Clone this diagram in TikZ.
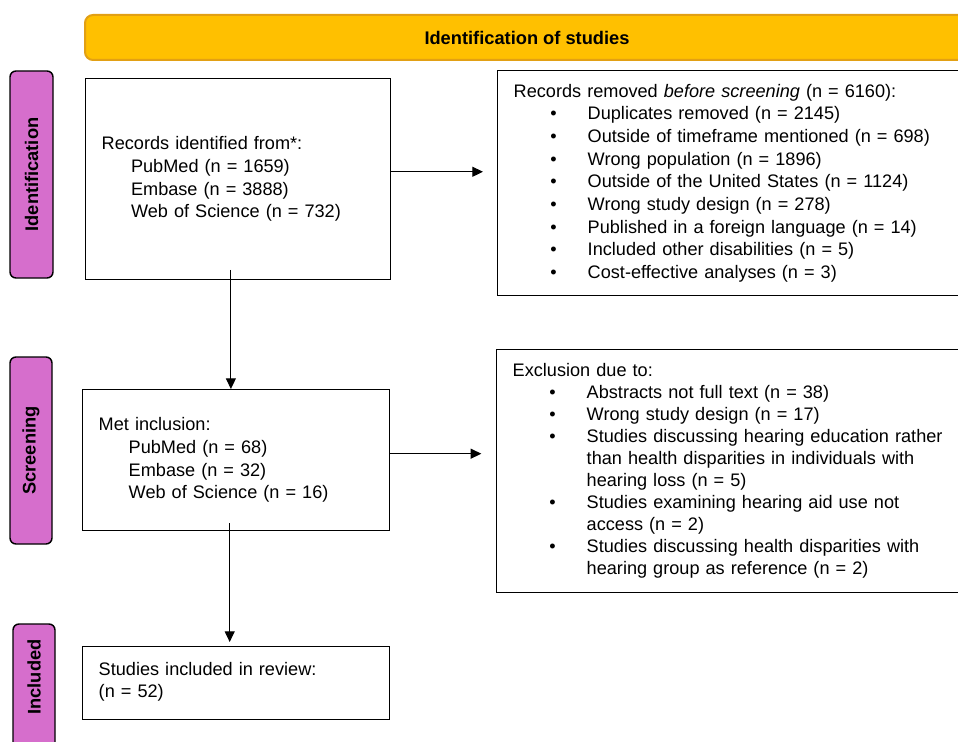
\documentclass[tikz,border=0pt]{standalone}
\usepackage{fontspec}
\setmainfont{Liberation Sans}
\usetikzlibrary{arrows.meta}
\definecolor{bandeau}{RGB}{255,192,0}
\definecolor{bandeaubord}{RGB}{226,160,20}
\definecolor{etape}{RGB}{214,110,204}
\newcommand{\puce}[1]{\makebox[55.5pt][l]{\hspace*{27.5pt}\textbullet}#1}
\newcommand{\suite}{\hspace*{55.5pt}}

\begin{document}
\begin{tikzpicture}[x=0.75pt,y=-0.75pt,
  font=\fontsize{13.6pt}{17pt}\selectfont,
  boite/.style={draw, line width=1.1pt, anchor=north west, align=left, inner xsep=12pt, inner ysep=0pt},
  phase/.style={draw, line width=1.1pt, fill=etape, rounded corners=4.5pt},
  titre/.style={font=\bfseries\fontsize{13.7pt}{16pt}\selectfont},
  fleche/.style={line width=0.75pt, -{Triangle[length=8pt,width=7.5pt]}}]
\useasboundingbox (0,0) rectangle (958,742);
\clip (0,0) rectangle (958,742);

%Bandeau
\draw[fill=bandeau, draw=bandeaubord, line width=1.5pt, rounded corners=6pt] (85,15) rectangle (969,60) node[pos=.5, titre] (bandeau) {Identification of studies};

%Phases
\draw[phase] (10,71) rectangle (53,278) node[pos=.5, rotate=90, titre] (pid) {Identification};
\draw[phase] (10,357) rectangle (52,544) node[pos=.5, rotate=90, titre] (pscr) {Screening};
\draw[phase] (13,624) rectangle (55,830);
\node[rotate=90, titre] (pinc) at (34,677) {Included};

%Boites
\node[boite, text width=204.75pt, minimum width=228.75pt, minimum height=150.75pt] (id) at (85,78) {Records identified from*:\\
  \hspace*{22pt}PubMed (n = 1659)\\
  \hspace*{22pt}Embase (n = 3888)\\
  \hspace*{22pt}Web of Science (n = 732)};
\node[boite, text width=353pt, minimum width=377pt, minimum height=168.75pt] (rem) at (497,70) {Records removed \textit{before screening} (n = 6160):\\
  \puce{Duplicates removed (n = 2145)}\\
  \puce{Outside of timeframe mentioned (n = 698)}\\
  \puce{Wrong population (n = 1896)}\\
  \puce{Outside of the United States (n = 1124)}\\
  \puce{Wrong study design (n = 278)}\\
  \puce{Published in a foreign language (n = 14)}\\
  \puce{Included other disabilities (n = 5)}\\
  \puce{Cost-effective analyses (n = 3)}};
\node[boite, text width=206.25pt, minimum width=230.25pt, minimum height=105.75pt] (scr) at (82,389) {Met inclusion:\\
  \hspace*{22.5pt}PubMed (n = 68)\\
  \hspace*{22.5pt}Embase (n = 32)\\
  \hspace*{22.5pt}Web of Science (n = 16)};
\node[boite, text width=354pt, minimum width=378pt, minimum height=182.25pt, font=\fontsize{13.6pt}{16.5pt}\selectfont] (exc) at (496,349) {Exclusion due to:\\
  \puce{Abstracts not full text (n = 38)}\\
  \puce{Wrong study design (n = 17)}\\
  \puce{Studies discussing hearing education rather}\\
  \suite than health disparities in individuals with\\
  \suite hearing loss (n = 5)\\
  \puce{Studies examining hearing aid use not}\\
  \suite access (n = 2)\\
  \puce{Studies discussing health disparities with}\\
  \suite hearing group as reference (n = 2)};
\node[boite, text width=206.25pt, minimum width=230.25pt, minimum height=54.75pt, font=\fontsize{13.6pt}{16.5pt}\selectfont] (inc) at (82,646) {Studies included in review:\\
  (n = 52)\\[-12pt]\mbox{}};

%Fleches
\draw[fleche] ([xshift=-5.5pt,yshift=8pt]id.south) -- ([xshift=-5.5pt]id.south |- scr.north);
\draw[fleche, shorten >=3pt] ([xshift=-4.9pt,yshift=6pt]scr.south) -- ([xshift=-4.9pt]scr.south |- inc.north);
\draw[fleche, shorten >=10.5pt] ([yshift=5.6pt]id.east) -- ([yshift=5.6pt]id.east -| rem.west);
\draw[fleche, shorten >=11pt] ([yshift=4.9pt]scr.east) -- ([yshift=4.9pt]scr.east -| exc.west);

\end{tikzpicture}
\end{document}
